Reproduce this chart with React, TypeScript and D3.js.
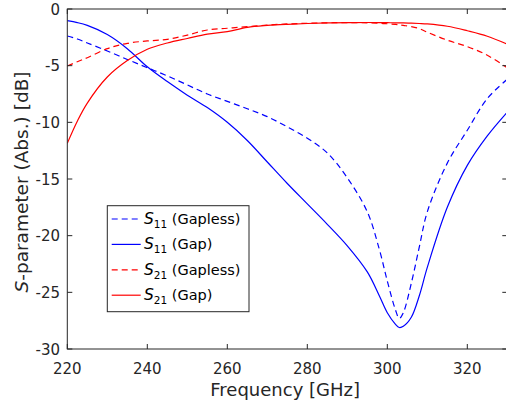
import React from "react";
import { scaleLinear, line, curveCatmullRom } from "d3";

const width = 506;
const height = 407;

// plot box (MATLAB style axes, the right edge falls just past the window)
const plot = { left: 67.3, top: 9, right: 507.3, bottom: 349 };

const font = "'DejaVu Sans', sans-serif";
const axisColor = "#262626";
const blue = "#0000ff";
const red = "#ff0000";

// Data setup: frequency grid [GHz] and S-parameters [dB]
const freq = [
  220, 222.5, 225, 230, 235, 240, 245, 250, 255, 260, 265, 270, 275, 280, 285,
  290, 295, 298, 300, 302, 303, 304, 306, 308, 310, 315, 320, 325, 330,
];

const s11Gapless = [
  -2.38, -2.65, -3.0, -3.7, -4.45, -5.18, -5.9, -6.7, -7.5, -8.15, -8.8, -9.5,
  -10.4, -11.4, -12.7, -14.9, -17.9, -21.2, -24.0, -26.5, -27.3, -26.8, -24.2,
  -21.0, -17.9, -13.6, -10.7, -7.9, -6.2,
];

const s11Gap = [
  -1.03, -1.2, -1.45, -2.25, -3.5, -5.1, -6.4, -7.6, -8.7, -10.0, -11.6, -13.5,
  -15.4, -17.2, -19.0, -20.9, -23.2, -25.3, -26.8, -27.8, -28.1, -28.0, -27.2,
  -25.3, -22.8, -17.5, -13.8, -11.2, -9.1,
];

const s21Gapless = [
  -5.03, -4.65, -4.3, -3.5, -3.03, -2.82, -2.68, -2.3, -1.85, -1.7, -1.55,
  -1.42, -1.32, -1.26, -1.22, -1.2, -1.22, -1.25, -1.3, -1.36, -1.4, -1.45,
  -1.55, -1.73, -2.05, -2.75, -3.32, -4.08, -5.2,
];

const s21Gap = [
  -11.85, -9.9, -8.3, -6.0, -4.55, -3.55, -3.0, -2.6, -2.22, -2.0, -1.62, -1.45,
  -1.35, -1.28, -1.23, -1.2, -1.19, -1.2, -1.21, -1.22, -1.22, -1.23, -1.25,
  -1.28, -1.32, -1.52, -1.92, -2.4, -3.1,
];

const xTicks = [220, 240, 260, 280, 300, 320];
const yTicks = [0, -5, -10, -15, -20, -25, -30];

const xAxisLabel = "Frequency [GHz]";
const yAxisLabel = "-parameter (Abs.) [dB]";

const series = [
  { sub: "11", label: "(Gapless)", values: s11Gapless, color: blue, dashed: true },
  { sub: "11", label: "(Gap)", values: s11Gap, color: blue, dashed: false },
  { sub: "21", label: "(Gapless)", values: s21Gapless, color: red, dashed: true },
  { sub: "21", label: "(Gap)", values: s21Gap, color: red, dashed: false },
];

const dash = "6,4";
const tickLen = 5;

const xScale = scaleLinear().domain([220, 330]).range([plot.left, plot.right]);
const yScale = scaleLinear().domain([-30, 0]).range([plot.bottom, plot.top]);

const makeLine = (values: number[]) =>
  line<number>()
    .x((_, i) => xScale(freq[i]))
    .y((d) => yScale(d))
    .curve(curveCatmullRom.alpha(0.5))(values) || "";

// Legend box
const legend = { x: 107.3, y: 205.7, w: 141.7, h: 106, rowY: 219, rowGap: 25.4 };

const Legend = () => (
  <g>
    <rect
      x={legend.x}
      y={legend.y}
      width={legend.w}
      height={legend.h}
      fill="#fff"
      stroke={axisColor}
      strokeWidth={1}
    />
    {series.map((s, i) => {
      const y = legend.rowY + i * legend.rowGap;
      return (
        <g key={i}>
          <line
            x1={111.7}
            x2={140.7}
            y1={y}
            y2={y}
            stroke={s.color}
            strokeWidth={1.2}
            strokeDasharray={s.dashed ? dash : undefined}
          />
          <text x={144} y={y + 5} fontFamily={font} fontSize={14.5} fill="#000">
            <tspan fontStyle="italic" fontSize={15.5}>
              S
            </tspan>
            <tspan fontSize={10.5} dy={4}>
              {s.sub}
            </tspan>
            <tspan dy={-4}> {s.label}</tspan>
          </text>
        </g>
      );
    })}
  </g>
);

export default function App() {
  return (
    <svg
      width={width}
      height={height}
      style={{ position: "absolute", left: 0, top: 0, background: "#fff" }}
    >
      <clipPath id="plotClip">
        <rect
          x={plot.left}
          y={plot.top}
          width={plot.right - plot.left}
          height={plot.bottom - plot.top}
        />
      </clipPath>

      {/* curves */}
      <g clipPath="url(#plotClip)">
        {series.map((s, i) => (
          <path
            key={i}
            d={makeLine(s.values)}
            fill="none"
            stroke={s.color}
            strokeWidth={1.2}
            strokeDasharray={s.dashed ? dash : undefined}
          />
        ))}
      </g>

      {/* axes box */}
      <rect
        x={plot.left}
        y={plot.top}
        width={plot.right - plot.left}
        height={plot.bottom - plot.top}
        fill="none"
        stroke={axisColor}
        strokeWidth={1}
      />

      {/* x ticks */}
      {xTicks.map((t) => (
        <g key={t}>
          <line
            x1={xScale(t)}
            x2={xScale(t)}
            y1={plot.bottom}
            y2={plot.bottom - tickLen}
            stroke={axisColor}
          />
          <line
            x1={xScale(t)}
            x2={xScale(t)}
            y1={plot.top}
            y2={plot.top + tickLen}
            stroke={axisColor}
          />
          <text
            x={xScale(t)}
            y={374}
            textAnchor="middle"
            fontFamily={font}
            fontSize={15}
            fill={axisColor}
          >
            {t}
          </text>
        </g>
      ))}

      {/* y ticks */}
      {yTicks.map((t) => (
        <g key={t}>
          <line
            x1={plot.left}
            x2={plot.left + tickLen}
            y1={yScale(t)}
            y2={yScale(t)}
            stroke={axisColor}
          />
          <line
            x1={plot.right}
            x2={plot.right - tickLen}
            y1={yScale(t)}
            y2={yScale(t)}
            stroke={axisColor}
          />
          <text
            x={60}
            y={yScale(t) + 5.5}
            textAnchor="end"
            fontFamily={font}
            fontSize={15}
            fill={axisColor}
          >
            {t}
          </text>
        </g>
      ))}

      <Legend />

      <text
        x={(plot.left + 503) / 2}
        y={396}
        textAnchor="middle"
        fontFamily={font}
        fontSize={18}
        fill={axisColor}
      >
        {xAxisLabel}
      </text>
      <text
        transform={`translate(28,${(plot.top + plot.bottom) / 2 + 3}) rotate(-90)`}
        textAnchor="middle"
        fontFamily={font}
        fontSize={18.5}
        fill={axisColor}
      >
        <tspan fontStyle="italic">S</tspan>
        {yAxisLabel}
      </text>
    </svg>
  );
}
